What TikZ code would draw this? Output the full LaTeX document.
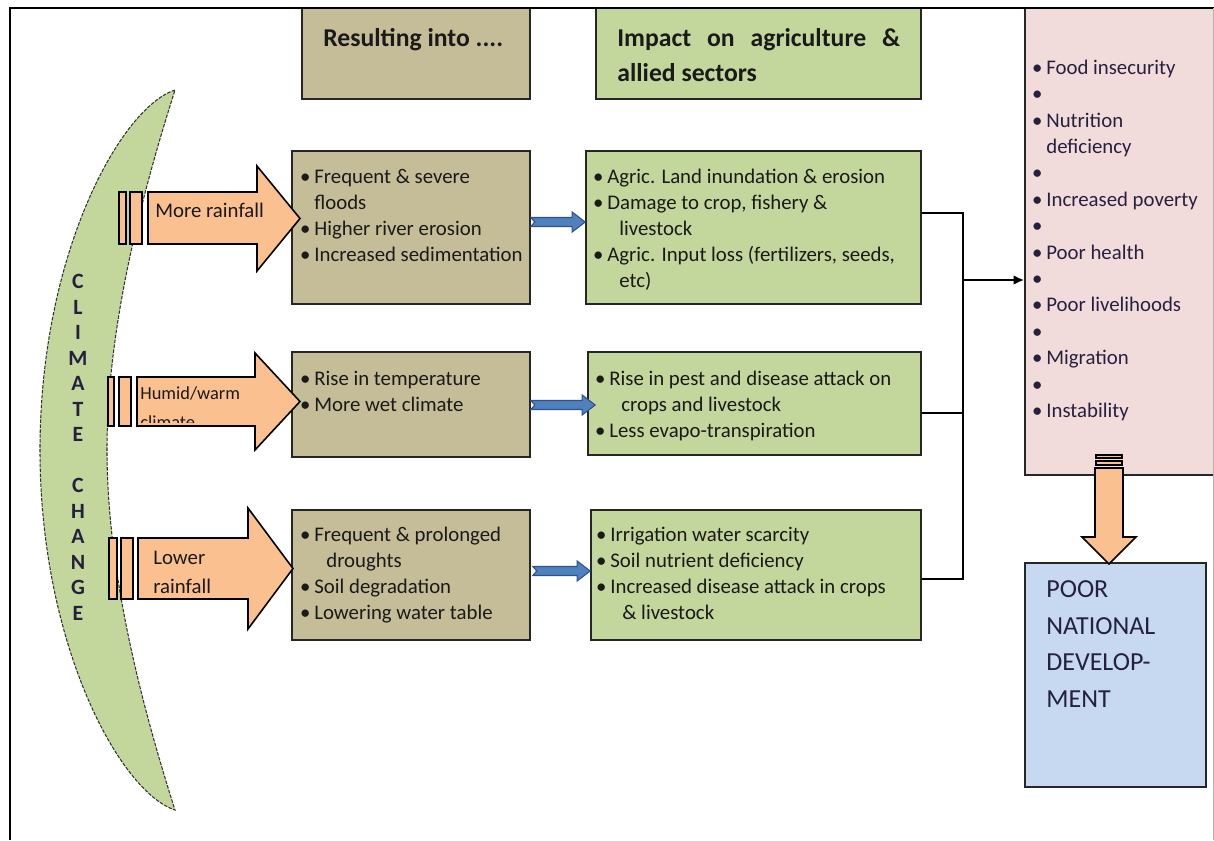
\documentclass[tikz,border=0pt]{standalone}
\usepackage{fontspec}
\setmainfont{Carlito}
\usetikzlibrary{fit,calc,arrows.meta}
\definecolor{tanc}{HTML}{C4BD97}
\definecolor{lgreen}{HTML}{C3D69B}
\definecolor{lpink}{HTML}{F2DCDB}
\definecolor{lblue}{HTML}{C6D9F1}
\definecolor{lorange}{HTML}{FAC090}
\definecolor{barrow}{HTML}{4F81BD}
\definecolor{barrowline}{HTML}{2F528F}
\definecolor{txtc}{HTML}{1A1A1A}
\definecolor{navytxt}{HTML}{262040}
\newcommand\bodyfont{\fontsize{11.84}{14.8}\selectfont}
\newcommand\R{\rule{0pt}{11.95pt}}
\newcommand\bi{\makebox[0pt]{\textbullet}\hspace{5.12pt}}
\newcommand\ct{\hspace*{5.12pt}}
\newcommand\cti{\hspace*{11.95pt}}
\newcommand\bluearrow[2]{\path[bluearr] ($(#1)+(0,-4.5)$) -- ($(#2)+(-13,-4.5)$) -- ($(#2)+(-13,-10)$) -- (#2) -- ($(#2)+(-13,10)$) -- ($(#2)+(-13,4.5)$) -- ($(#1)+(0,4.5)$) -- ($(#1)+(4,0)$) -- cycle;}
\begin{document}
\begin{tikzpicture}[x=0.02cm, y=-0.02cm, line join=miter,
  box/.style={draw=black!85, line width=0.9pt, inner sep=0pt},
  tanbox/.style={box, fill=tanc},
  greenbox/.style={box, fill=lgreen},
  tx/.style={anchor=north west, inner sep=0pt, align=left, text=txtc, font=\bodyfont},
  conn/.style={line width=1.4pt, draw=black},
  orarrow/.style={fill=lorange, draw=black, line width=0.9pt},
  bluearr/.style={fill=barrow, draw=barrowline, line width=0.6pt}]
\useasboundingbox (0,0) rectangle (1214,840);
\fill[white] (0,0) rectangle (1214,840);

% crescent
\path[fill=lgreen, draw=black!80, line width=0.6pt, dash pattern=on 2pt off 0.8pt]
  (175,90) .. controls (120,108) and (40,255) .. (40,450)
  .. controls (40,645) and (120,792) .. (175,810)
  .. controls (140,700) and (107,570) .. (107,450)
  .. controls (107,330) and (140,200) .. (175,90) -- cycle;
\node[anchor=north, inner sep=0pt, align=center, text=navytxt,
  font=\fontsize{12.4}{14.51}\selectfont\bfseries] (cc) at (78,267.5)
  {\R C\\L\\I\\M\\A\\T\\E\\\mbox{}\\C\\H\\A\\N\\G\\E};

% header boxes
\node[tanbox, fit={(302,8)(530,99)}] (h1) {};
\node[greenbox, fit={(596,8)(921,99)}] (h2) {};
\node[tx, font=\fontsize{14.62}{19.92}\selectfont\bfseries] (h1t) at (323,25) {\R Resulting into ....};
\node[tx, font=\fontsize{14.62}{19.92}\selectfont\bfseries] (h2t) at (617,25)
  {\R\makebox[161.0pt][s]{Impact on agriculture \&}\\allied sectors};

% row boxes
\node[tanbox, fit={(292,151)(530,304)}] (b1) {};
\node[greenbox, fit={(586,151)(921,304)}] (g1) {};
\node[tanbox, fit={(292,352)(530,457)}] (b2) {};
\node[greenbox, fit={(588,352)(921,455)}] (g2) {};
\node[tanbox, fit={(292,510)(530,640)}] (b3) {};
\node[greenbox, fit={(591,510)(921,640)}] (g3) {};

\node[tx] (b1t) at (305,162) {\R\bi Frequent \& severe\\\ct floods\\\bi Higher river erosion\\\bi Increased sedimentation};
\node[tx] (g1t) at (598,162) {\R\bi Agric. Land inundation \& erosion\\\bi Damage to crop, fishery \&\\\cti livestock\\\bi Agric. Input loss (fertilizers, seeds,\\\cti etc)};
\node[tx] (b2t) at (305,364) {\R\bi Rise in temperature\\\bi More wet climate};
\node[tx] (g2t) at (600,364) {\R\bi Rise in pest and disease attack on\\\cti crops and livestock\\\bi Less evapo-transpiration};
\node[tx] (b3t) at (305,520) {\R\bi Frequent \& prolonged\\\cti droughts\\\bi Soil degradation\\\bi Lowering water table};
\node[tx] (g3t) at (601,520) {\R\bi Irrigation water scarcity\\\bi Soil nutrient deficiency\\\bi Increased disease attack in crops\\\cti \& livestock};

% pink and blue boxes
\node[box, fill=lpink, fit={(1025,8)(1225,475)}] (pk) {};
\node[tx, text=navytxt, font=\fontsize{11.84}{15.02}\selectfont] (pkt) at (1037,53)
  {\R\bi Food insecurity\\\bi\\\bi Nutrition\\\ct deficiency\\\bi\\\bi Increased poverty\\\bi\\\bi Poor health\\\bi\\\bi Poor livelihoods\\\bi\\\bi Migration\\\bi\\\bi Instability};
\node[box, fill=lblue, fit={(1025,563)(1206,787)}] (nd) {};
\node[tx, text=navytxt, font=\fontsize{14.8}{20.9}\selectfont] (ndt) at (1046,576)
  {\R POOR\\NATIONAL\\DEVELOP-\\MENT};

% orange block arrows
\path[orarrow] (119,192) rectangle (126,244);
\path[orarrow] (130,192) rectangle (142,244);
\path[orarrow] (148,192) -- (257,192) -- (257,166) -- (300,218.5) -- (257,271) -- (257,244) -- (148,244) -- cycle;
\node[tx] (r1) at (155,196) {\R More rainfall};

\path[orarrow] (108,377) rectangle (114,426);
\path[orarrow] (119,377) rectangle (131,426);
\path[orarrow] (137,377) -- (255,377) -- (255,353) -- (300,401.5) -- (255,450) -- (255,426) -- (137,426) -- cycle;
\begin{scope}
\clip (137,378) rectangle (255,422);
\node[tx, font=\fontsize{10.47}{16.5}\selectfont] (r2) at (140,378) {\R Humid/warm\\climate};
\end{scope}

\path[orarrow] (109,538) rectangle (117,599);
\path[orarrow] (121,538) rectangle (133,599);
\path[orarrow] (138,538) -- (248,538) -- (248,508) -- (293,568.5) -- (248,629) -- (248,599) -- (138,599) -- cycle;
\node[tx, font=\fontsize{11.84}{16.5}\selectfont] (r3) at (153,543) {\R Lower\\rainfall};

% blue arrows
\coordinate (ya1) at (0,222);
\coordinate (ya2) at (0,405);
\coordinate (ya3) at (0,571);
\coordinate (a1s) at (b1.east |- ya1);
\coordinate (a1e) at (g1.west |- ya1);
\coordinate (a2s) at (b2.east |- ya2);
\coordinate (a2e) at ($(g2.west |- ya2)+(8,0)$);
\coordinate (a3s) at ($(b3.east |- ya3)+(2,0)$);
\coordinate (a3e) at (g3.west |- ya3);
\bluearrow{a1s}{a1e}
\bluearrow{a2s}{a2e}
\bluearrow{a3s}{a3e}

% connectors
\coordinate (j1) at (963,213);
\coordinate (j2) at (963,413);
\coordinate (j3) at (963,579);
\coordinate (ja) at (963,280);
\draw[conn] (g1.east |- j1) -- (j1) -- (j3) -- (g3.east |- j3);
\draw[conn] (g2.east |- j2) -- (j2);
\draw[conn, -{Latex[length=6pt, width=5.5pt]}] (ja) -- (ja -| pk.west);

% down arrow
\path[orarrow, line width=0.6pt] (1096,455) rectangle (1122,458);
\path[orarrow, line width=0.6pt] (1096,461) rectangle (1122,465);
\path[orarrow] (1095,468) -- (1123,468) -- (1123,537) -- (1136,537) -- (1109,564) -- (1082,537) -- (1095,537) -- cycle;

% frame
\draw[line width=1.5pt, black] (10,840) -- (10,8) -- (1214,8);
\draw[line width=0.5pt, black!30] (1213,8) -- (1213,840);
\end{tikzpicture}
\end{document}
